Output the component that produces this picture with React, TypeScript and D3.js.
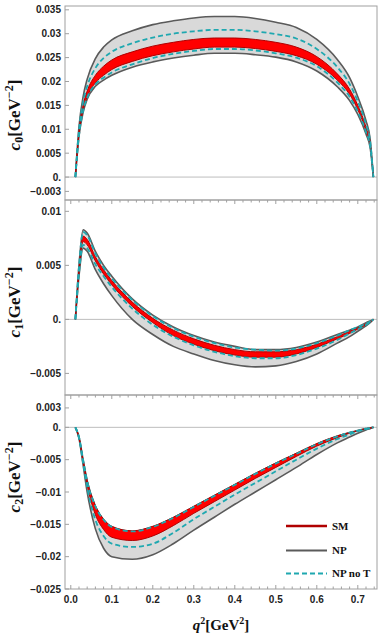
import * as d3 from 'd3';

// q^2 sample points [GeV^2]
const q2 = [0.0112, 0.02, 0.03, 0.04, 0.06, 0.08, 0.1, 0.15, 0.2, 0.25, 0.3, 0.35, 0.4, 0.45, 0.5, 0.55, 0.6, 0.65, 0.68, 0.7, 0.72, 0.73, 0.738];

// c0
const c0NPHi = [0, 0.0105, 0.0168, 0.0205, 0.0248, 0.0272, 0.0287, 0.0306, 0.0319, 0.0327, 0.0333, 0.0336, 0.0336, 0.0332, 0.0324, 0.0313, 0.0288, 0.0246, 0.0208, 0.0168, 0.0118, 0.008, 0];
const c0NPLo = [0, 0.0085, 0.0135, 0.0163, 0.019, 0.0203, 0.0213, 0.023, 0.0241, 0.0249, 0.0255, 0.0259, 0.0259, 0.0256, 0.0251, 0.0241, 0.0222, 0.0189, 0.016, 0.0131, 0.009, 0.0062, 0];
const c0SMHi = [0, 0.0095, 0.015, 0.018, 0.0213, 0.0232, 0.0245, 0.0262, 0.0274, 0.0282, 0.0288, 0.0291, 0.0291, 0.0288, 0.0282, 0.0272, 0.0252, 0.0216, 0.0184, 0.015, 0.0104, 0.0071, 0];
const c0SMLo = [0, 0.009, 0.014, 0.0168, 0.0197, 0.0213, 0.0225, 0.0242, 0.0254, 0.0262, 0.0268, 0.0272, 0.0272, 0.0269, 0.0263, 0.0254, 0.0236, 0.0203, 0.0173, 0.0141, 0.0097, 0.0067, 0];
const c0NoTHi = [0, 0.0098, 0.0157, 0.019, 0.0228, 0.0249, 0.0262, 0.028, 0.0292, 0.03, 0.0305, 0.0308, 0.0308, 0.0305, 0.0299, 0.029, 0.0268, 0.023, 0.0195, 0.0158, 0.011, 0.0075, 0];
const c0NoTLo = [0, 0.0087, 0.0138, 0.0166, 0.0194, 0.0208, 0.0219, 0.0236, 0.0249, 0.0258, 0.0264, 0.0268, 0.0268, 0.0265, 0.0259, 0.025, 0.0232, 0.0198, 0.0168, 0.0137, 0.0094, 0.0065, 0];

// c1
const c1NPHi = [0, 0.005, 0.0083, 0.008, 0.0063, 0.005, 0.004, 0.0019, 0.0004, -0.0007, -0.0015, -0.0021, -0.0025, -0.0028, -0.0028, -0.0026, -0.0021, -0.0014, -0.001, -0.0007, -0.0003, -0.00015, 0];
const c1NPLo = [0, 0.004, 0.0066, 0.0063, 0.0046, 0.0033, 0.0022, 0, -0.0014, -0.0025, -0.0032, -0.0038, -0.0042, -0.0044, -0.0043, -0.0039, -0.0032, -0.0022, -0.0016, -0.0011, -0.0006, -0.0003, 0];
const c1SMHi = [0, 0.0046, 0.0077, 0.0074, 0.0058, 0.0046, 0.0036, 0.0016, 0.0001, -0.001, -0.0018, -0.0024, -0.0028, -0.003, -0.003, -0.0028, -0.0023, -0.0016, -0.0011, -0.0008, -0.0004, -0.0002, 0];
const c1SMLo = [0, 0.0043, 0.0072, 0.0069, 0.0054, 0.0042, 0.0032, 0.0012, -0.0003, -0.0015, -0.0023, -0.0029, -0.0033, -0.0035, -0.0035, -0.0032, -0.0026, -0.0018, -0.0013, -0.0009, -0.0005, -0.00025, 0];
const c1NoTHi = [0, 0.0049, 0.0081, 0.0078, 0.0061, 0.0048, 0.0038, 0.0018, 0.0003, -0.0008, -0.0016, -0.0022, -0.0026, -0.0028, -0.0029, -0.0027, -0.0022, -0.0015, -0.001, -0.0007, -0.0004, -0.0002, 0];
const c1NoTLo = [0, 0.0042, 0.0069, 0.0066, 0.0051, 0.004, 0.003, 0.001, -0.0005, -0.0016, -0.0024, -0.003, -0.0034, -0.0036, -0.0036, -0.0033, -0.0027, -0.0019, -0.0013, -0.0009, -0.0005, -0.00025, 0];

// c2
const c2NPHi = [0, -0.0015, -0.005, -0.0083, -0.0122, -0.0143, -0.0154, -0.0161, -0.0154, -0.014, -0.0123, -0.0106, -0.0089, -0.0072, -0.0056, -0.0041, -0.0026, -0.0014, -0.0008, -0.0005, -0.0002, -0.0001, 0];
const c2NPLo = [0, -0.0017, -0.0058, -0.01, -0.0157, -0.0187, -0.02, -0.0204, -0.0197, -0.018, -0.0159, -0.0139, -0.0119, -0.01, -0.0081, -0.0062, -0.0042, -0.0024, -0.0015, -0.0009, -0.0004, -0.0002, 0];
const c2SMHi = [0, -0.0015, -0.005, -0.0082, -0.0121, -0.0142, -0.0153, -0.016, -0.0153, -0.0139, -0.0122, -0.0105, -0.0088, -0.0071, -0.0055, -0.004, -0.0025, -0.0013, -0.0008, -0.0005, -0.0002, -0.0001, 0];
const c2SMLo = [0, -0.0016, -0.0053, -0.0089, -0.0135, -0.0158, -0.017, -0.0175, -0.0168, -0.0152, -0.0133, -0.0115, -0.0097, -0.0079, -0.0062, -0.0045, -0.0029, -0.0016, -0.0009, -0.0005, -0.0002, -0.0001, 0];
const c2NoTHi = [0, -0.0015, -0.005, -0.0083, -0.0122, -0.0143, -0.0154, -0.0161, -0.0154, -0.014, -0.0123, -0.0106, -0.0089, -0.0072, -0.0056, -0.0041, -0.0026, -0.0014, -0.0008, -0.0005, -0.0002, -0.0001, 0];
const c2NoTLo = [0, -0.0016, -0.0055, -0.0093, -0.0143, -0.0168, -0.018, -0.0185, -0.018, -0.0163, -0.0142, -0.0123, -0.0104, -0.0086, -0.0068, -0.005, -0.0033, -0.0018, -0.0011, -0.0006, -0.0003, -0.0001, 0];

// ticks
const xTicks = [0, 0.1, 0.2, 0.3, 0.4, 0.5, 0.6, 0.7];
const c0Ticks = [-0.003, 0, 0.005, 0.01, 0.015, 0.02, 0.025, 0.03, 0.035];
const c1Ticks = [-0.005, 0, 0.005, 0.01];
const c2Ticks = [-0.025, -0.02, -0.015, -0.01, -0.005, 0, 0.003];

const legendNames = ['SM', 'NP', 'NP no T'];

const W = 385;
const H = 637;
const left = 65;
const right = 377;

const GRAY_FILL = '#d9d9d9';
const GRAY_LINE = '#5a5a5a';
const RED_FILL = '#ff0000';
const RED_LINE = '#b00000';
const TEAL = '#1fa8b0';
const FRAME = '#a0a0a0';

const panels = [
  { top: 6, bottom: 200, domain: [-0.0048, 0.0358], ticks: c0Ticks, sub: '0', labelY: 115, topTicks: false,
    np: [c0NPHi, c0NPLo], sm: [c0SMHi, c0SMLo], noT: [c0NoTHi, c0NoTLo] },
  { top: 200, bottom: 395, domain: [-0.007, 0.01105], ticks: c1Ticks, sub: '1', labelY: 302, topTicks: true,
    np: [c1NPHi, c1NPLo], sm: [c1SMHi, c1SMLo], noT: [c1NoTHi, c1NoTLo] },
  { top: 395, bottom: 589, domain: [-0.025, 0.005], ticks: c2Ticks, sub: '2', labelY: 477, topTicks: true,
    np: [c2NPHi, c2NPLo], sm: [c2SMHi, c2SMLo], noT: [c2NoTHi, c2NoTLo] },
];

const fmtY = (v: number) => (v === 0 ? '0.' : String(v).replace('-', '\u2212'));

export default function App() {
  const x = d3.scaleLinear().domain([-0.0141, 0.7468]).range([left, right]);
  const minorX = d3.range(0, 0.741, 0.02);

  return (
    <svg width={W} height={H} style={{ position: 'absolute', left: 0, top: 0, background: '#fff' }}>
      {panels.map((p, pi) => {
        const y = d3.scaleLinear().domain(p.domain).range([p.bottom, p.top]);
        const area = (hi: number[], lo: number[]) =>
          d3.area<number>().x((_, i) => x(q2[i])).y0((_, i) => y(lo[i])).y1((d) => y(d)).curve(d3.curveMonotoneX)(hi) || '';
        const line = (vals: number[]) =>
          d3.line<number>().x((_, i) => x(q2[i])).y((d) => y(d)).curve(d3.curveMonotoneX)(vals) || '';
        return (
          <g key={pi}>
            {/* zero line */}
            <line x1={left} x2={right} y1={y(0)} y2={y(0)} stroke="#bdbdbd" strokeWidth={1} />
            {/* NP band */}
            <path d={area(p.np[0], p.np[1])} fill={GRAY_FILL} />
            <path d={line(p.np[0])} fill="none" stroke={GRAY_LINE} strokeWidth={1.6} />
            <path d={line(p.np[1])} fill="none" stroke={GRAY_LINE} strokeWidth={1.6} />
            {/* SM band */}
            <path d={area(p.sm[0], p.sm[1])} fill={RED_FILL} />
            <path d={line(p.sm[0])} fill="none" stroke={RED_LINE} strokeWidth={1} />
            <path d={line(p.sm[1])} fill="none" stroke={RED_LINE} strokeWidth={1} />
            {/* NP no T */}
            <path d={line(p.noT[0])} fill="none" stroke={TEAL} strokeWidth={1.8} strokeDasharray="5,3" />
            <path d={line(p.noT[1])} fill="none" stroke={TEAL} strokeWidth={1.8} strokeDasharray="5,3" />
            {/* y ticks */}
            {p.ticks.map((t) => (
              <g key={t}>
                <line x1={left} x2={left + 4} y1={y(t)} y2={y(t)} stroke={FRAME} />
                <text x={left - 4} y={y(t)} dy="0.35em" textAnchor="end" fontFamily="Liberation Sans, Arial, sans-serif"
                  fontWeight="bold" fontSize={10} fill="#222">{fmtY(t)}</text>
              </g>
            ))}
            {/* top edge ticks */}
            {p.topTicks && minorX.map((t, i) => {
              const major = i % 5 === 0;
              return <line key={i} x1={x(t)} x2={x(t)} y1={p.top} y2={p.top + (major ? 4 : 2.5)} stroke={FRAME} />;
            })}
            {/* frame */}
            <rect x={left} y={p.top} width={right - left} height={p.bottom - p.top} fill="none" stroke={FRAME} strokeWidth={1} />
            {/* y label */}
            <text transform={`translate(20,${p.labelY}) rotate(-90)`} textAnchor="middle"
              fontFamily="Liberation Serif, Times New Roman, serif" fontWeight="bold" fontSize={17} fill="#111">
              <tspan fontStyle="italic">c</tspan>
              <tspan fontSize={12} dy={3}>{p.sub}</tspan>
              <tspan dy={-3}>[GeV</tspan>
              <tspan fontSize={12} dy={-7}>{'\u22122'}</tspan>
              <tspan dy={7}>]</tspan>
            </text>
          </g>
        );
      })}

      {/* bottom x axis ticks */}
      {minorX.map((t, i) => {
        const major = i % 5 === 0;
        return <line key={i} x1={x(t)} x2={x(t)} y1={589} y2={589 - (major ? 4 : 2.5)} stroke={FRAME} />;
      })}
      {xTicks.map((t) => (
        <text key={t} x={x(t)} y={603} textAnchor="middle" fontFamily="Liberation Sans, Arial, sans-serif"
          fontWeight="bold" fontSize={10} fill="#222">{t.toFixed(1)}</text>
      ))}
      <text x={221} y={630} textAnchor="middle" fontFamily="Liberation Serif, Times New Roman, serif"
        fontWeight="bold" fontSize={15} fill="#111">
        <tspan fontStyle="italic">q</tspan>
        <tspan fontSize={10} dy={-6}>2</tspan>
        <tspan dy={6}>[GeV</tspan>
        <tspan fontSize={10} dy={-6}>2</tspan>
        <tspan dy={6}>]</tspan>
      </text>

      {/* legend */}
      {legendNames.map((name, i) => {
        const ly = [526, 550.5, 573.5][i];
        const stroke = [RED_LINE, GRAY_LINE, TEAL][i];
        return (
          <g key={name}>
            <line x1={286} x2={327} y1={ly} y2={ly} stroke={stroke} strokeWidth={i === 0 ? 2.4 : 2}
              strokeDasharray={i === 2 ? '5,3' : undefined} />
            <text x={332} y={ly} dy="0.35em" fontFamily="Liberation Serif, Times New Roman, serif" fontWeight="bold"
              fontSize={11} fill="#111">{name}</text>
          </g>
        );
      })}
    </svg>
  );
}
